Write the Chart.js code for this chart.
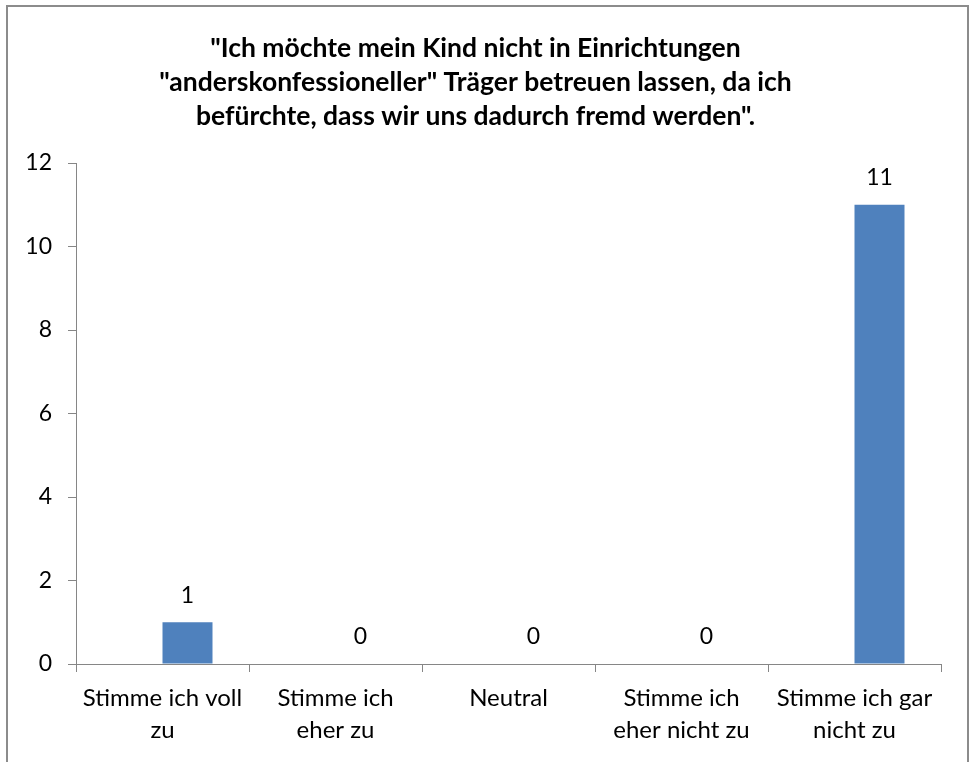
<!DOCTYPE html>
<html>
<head>
<meta charset="utf-8">
<script src="https://cdn.jsdelivr.net/npm/chart.js@4.4.1/dist/chart.umd.min.js"></script>
<style>
  html, body { margin: 0; padding: 0; background: #fff; }
  #wrap { position: relative; width: 970px; height: 762px; overflow: hidden; }
  #frame { position: absolute; left: 6px; top: 5px; width: 959px; height: 800px;
           border-top: 2px solid #8c8c8c; border-left: 2px solid #8c8c8c; border-right: 2px solid #8c8c8c;
           pointer-events: none; }
  canvas { position: absolute; left: 0; top: 0; }
</style>
</head>
<body>
<div id="wrap">
  <canvas id="c" width="970" height="762"></canvas>
  <div id="frame"></div>
</div>
<script>
const titleLines = [
  '"Ich möchte mein Kind nicht in Einrichtungen',
  '"anderskonfessioneller" Träger betreuen lassen, da ich',
  'befürchte, dass wir uns dadurch fremd werden".'
];
const categories = [
  ['Stimme ich voll', 'zu'],
  ['Stimme ich', 'eher zu'],
  ['Neutral'],
  ['Stimme ich', 'eher nicht zu'],
  ['Stimme ich gar', 'nicht zu']
];
const counts = [1, 0, 0, 0, 11];
const spacer = [null, null, null, null, null];
const yTicks = [0, 2, 4, 6, 8, 10, 12];

const FONT = 'Lato, "Open Sans", sans-serif';

const valueLabels = {
  id: 'valueLabels',
  afterDatasetsDraw(chart) {
    const ctx = chart.ctx;
    const meta = chart.getDatasetMeta(1);
    ctx.save();
    ctx.font = '23px ' + FONT;
    ctx.fillStyle = '#000';
    ctx.textAlign = 'center';
    ctx.textBaseline = 'middle';
    meta.data.forEach((el, i) => {
      ctx.fillText(String(counts[i]), el.x, el.y - 27);
    });
    ctx.restore();
  }
};

new Chart(document.getElementById('c'), {
  type: 'bar',
  data: {
    labels: categories,
    datasets: [
      { label: '', data: spacer, backgroundColor: 'rgba(0,0,0,0)' },
      { label: 'Anzahl', data: counts, backgroundColor: '#4f81bd', borderWidth: 0 }
    ]
  },
  options: {
    responsive: false,
    animation: false,
    devicePixelRatio: 1,
    layout: { padding: { left: 10, right: 29, top: 0, bottom: 0 } },
    categoryPercentage: 0.578,
    barPercentage: 1.0,
    plugins: {
      legend: { display: false },
      tooltip: { enabled: false },
      title: {
        display: true,
        text: titleLines,
        color: '#000',
        font: { family: FONT, size: 26.5, weight: 'bold', lineHeight: 34 / 26.5 },
        padding: { top: 31, bottom: 30 }
      }
    },
    scales: {
      x: {
        grid: { offset: true, drawOnChartArea: false, tickLength: 8, color: '#868686' },
        border: { color: '#868686', width: 1 },
        ticks: { color: '#000', font: { family: FONT, size: 24, lineHeight: 32 / 24 }, padding: 10, maxRotation: 0, autoSkip: false },
        afterFit(scale) { scale.height = 98; }
      },
      y: {
        min: 0, max: 12,
        afterBuildTicks(scale) { scale.ticks = yTicks.map(v => ({ value: v })); },
        grid: { drawOnChartArea: false, tickLength: 8, color: '#868686' },
        border: { color: '#868686', width: 1 },
        ticks: { color: '#000', font: { family: FONT, size: 23 }, padding: 16 },
        afterFit(scale) { scale.width = 66; }
      }
    }
  },
  plugins: [valueLabels]
});
</script>
</body>
</html>
